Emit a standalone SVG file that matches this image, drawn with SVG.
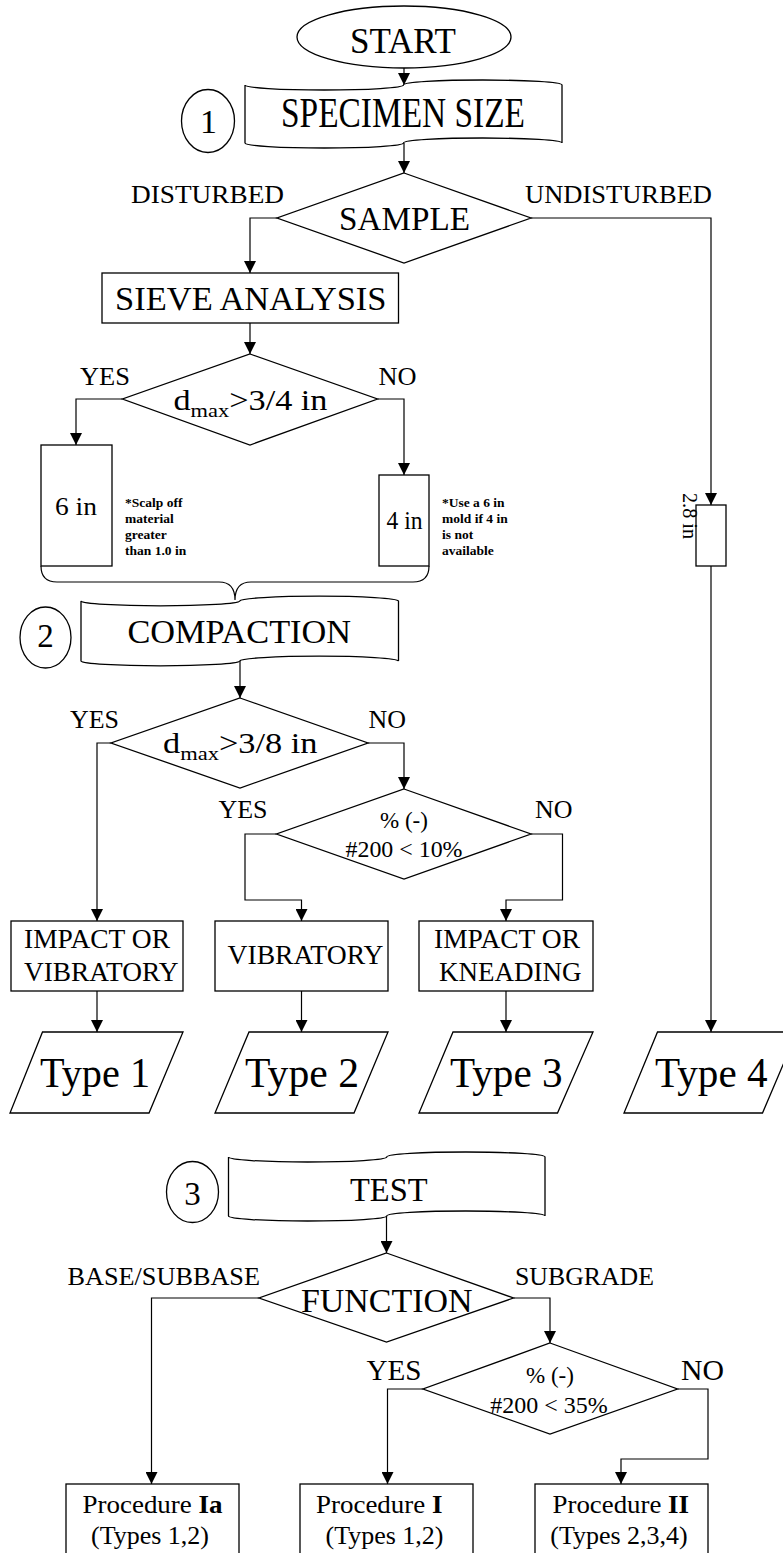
<svg xmlns="http://www.w3.org/2000/svg" width="783" height="1553" viewBox="0 0 783 1553">
<style>
.s{fill:#fff;stroke:#000;stroke-width:1.3}
.c{fill:none;stroke:#000;stroke-width:1.2;marker-end:url(#ah)}
.b{fill:none;stroke:#000;stroke-width:1.2}
text{font-family:"Liberation Serif","Times New Roman",serif;fill:#000}
.note{font-size:13.5px;font-weight:bold}
.lab{font-size:25px}
</style>
<defs>
<marker id="ah" markerUnits="userSpaceOnUse" markerWidth="12" markerHeight="12" viewBox="0 0 12 12" refX="12" refY="6" orient="auto">
<path d="M0,0 L12,6 L0,12 Z" fill="#000"/>
</marker>
</defs>
<rect x="0" y="0" width="783" height="1553" fill="#fff"/>

<g id="connectors">
<path class="c" d="M404,68 V85"/>
<path class="c" d="M404,143 V173"/>
<path class="c" d="M277,218 H250 V273"/>
<path class="c" d="M531,218 H711 V505"/>
<path class="c" d="M250,323 V354"/>
<path class="c" d="M122.5,399 H76 V445"/>
<path class="c" d="M377.5,399 H404 V475"/>
<path class="b" d="M41,566 Q41,582 57,582 L219,582 Q235,582 235,600 Q235,582 251,582 L413,582 Q429,582 429,566"/>
<path class="c" d="M240,661 V698"/>
<path class="c" d="M111,743 H97 V921"/>
<path class="c" d="M368,743 H404 V789"/>
<path class="c" d="M276.5,834 H245 V900 H301.5 V921"/>
<path class="c" d="M531,834 H562.5 V900 H506 V921"/>
<path class="c" d="M97,991 V1032"/>
<path class="c" d="M301.5,991 V1032"/>
<path class="c" d="M506,991 V1032"/>
<path class="c" d="M711,566 V1032"/>
<path class="c" d="M386.5,1216 V1253"/>
<path class="c" d="M259,1298 H151.5 V1484"/>
<path class="c" d="M513.5,1298 H550 V1343"/>
<path class="c" d="M423,1389 H387.5 V1484"/>
<path class="c" d="M677.5,1389 H708 V1459 H621 V1484"/>
</g>

<g id="start">
<ellipse class="s" cx="404" cy="37" rx="107" ry="31"/>
<text x="350" y="53" font-size="35" textLength="106" lengthAdjust="spacingAndGlyphs">START</text>
</g>

<g id="step1">
<ellipse class="s" cx="208" cy="121" rx="26.5" ry="31.5"/>
<text x="208.5" y="133" font-size="34" text-anchor="middle">1</text>
</g>

<g id="specimen-size">
<path class="s" d="M245,85 A79.25,5 0 0 0 403.5,85 A79.25,5 0 0 1 562,85 L562,143 A79.25,5 0 0 0 403.5,143 A79.25,5 0 0 1 245,143 Z"/>
<text x="281" y="127" font-size="42" textLength="244" lengthAdjust="spacingAndGlyphs">SPECIMEN SIZE</text>
</g>

<g id="sample">
<polygon class="s" points="404,173 531,218 404,263 277,218"/>
<text x="339" y="230" font-size="34" textLength="131" lengthAdjust="spacingAndGlyphs">SAMPLE</text>
<text x="131" y="203" class="lab" textLength="153" lengthAdjust="spacingAndGlyphs">DISTURBED</text>
<text x="525" y="203" class="lab" textLength="187" lengthAdjust="spacingAndGlyphs">UNDISTURBED</text>
</g>

<g id="sieve">
<rect class="s" x="102" y="273" width="296.5" height="50"/>
<text x="115" y="310" font-size="33" textLength="271.5" lengthAdjust="spacingAndGlyphs">SIEVE ANALYSIS</text>
</g>

<g id="dmax-34">
<polygon class="s" points="250,354 377.5,399 250,445 122.5,399"/>
<text x="173.5" y="410" font-size="29" textLength="154" lengthAdjust="spacingAndGlyphs">d<tspan font-size="19" dy="7">max</tspan><tspan dy="-7">&gt;3/4 in</tspan></text>
<text x="80" y="385" class="lab" textLength="50" lengthAdjust="spacingAndGlyphs">YES</text>
<text x="378.5" y="385" class="lab" textLength="38" lengthAdjust="spacingAndGlyphs">NO</text>
</g>

<g id="mold-6in">
<rect class="s" x="41" y="445" width="71" height="121"/>
<text x="55" y="515" font-size="26" textLength="42" lengthAdjust="spacingAndGlyphs">6 in</text>
<text class="note" x="125" y="507">*Scalp off</text>
<text class="note" x="125" y="523">material</text>
<text class="note" x="125" y="539">greater</text>
<text class="note" x="125" y="555">than 1.0 in</text>
</g>

<g id="mold-4in">
<rect class="s" x="379" y="475" width="50" height="91"/>
<text x="386.5" y="529" font-size="26" textLength="36" lengthAdjust="spacingAndGlyphs">4 in</text>
<text class="note" x="442" y="507">*Use a 6 in</text>
<text class="note" x="442" y="523">mold if 4 in</text>
<text class="note" x="442" y="539">is not</text>
<text class="note" x="442" y="555">available</text>
</g>

<g id="mold-28in">
<rect class="s" x="696" y="505" width="30" height="61"/>
<text transform="translate(683,493) rotate(90)" font-size="20" textLength="46" lengthAdjust="spacingAndGlyphs">2.8 in</text>
</g>

<g id="step2">
<ellipse class="s" cx="45.5" cy="637.5" rx="25.5" ry="30.5"/>
<text x="45.5" y="647" font-size="33" text-anchor="middle">2</text>
</g>

<g id="compaction">
<path class="s" d="M81,601 A79.4,5 0 0 0 239.75,601 A79.4,5 0 0 1 398.5,601 L398.5,661 A79.4,5 0 0 0 239.75,661 A79.4,5 0 0 1 81,661 Z"/>
<text x="127.5" y="643" font-size="33" textLength="223.5" lengthAdjust="spacingAndGlyphs">COMPACTION</text>
</g>

<g id="dmax-38">
<polygon class="s" points="240,698 368,743 240,788 111,743"/>
<text x="163" y="753" font-size="29" textLength="154.5" lengthAdjust="spacingAndGlyphs">d<tspan font-size="19" dy="7">max</tspan><tspan dy="-7">&gt;3/8 in</tspan></text>
<text x="70" y="728" class="lab" textLength="49" lengthAdjust="spacingAndGlyphs">YES</text>
<text x="368.5" y="728" class="lab" textLength="37.5" lengthAdjust="spacingAndGlyphs">NO</text>
</g>

<g id="fines-10">
<polygon class="s" points="404,789 531,834 404,879 276.5,834"/>
<text x="404" y="828" font-size="23" text-anchor="middle">% (-)</text>
<text x="404" y="857" font-size="23" text-anchor="middle" textLength="117" lengthAdjust="spacingAndGlyphs">#200 &lt; 10%</text>
<text x="218.5" y="818" class="lab" textLength="49" lengthAdjust="spacingAndGlyphs">YES</text>
<text x="535" y="818" class="lab" textLength="37.5" lengthAdjust="spacingAndGlyphs">NO</text>
</g>

<g id="impact-vibratory">
<rect class="s" x="11" y="921" width="172" height="70"/>
<text x="24" y="948" font-size="27" textLength="146" lengthAdjust="spacingAndGlyphs">IMPACT OR</text>
<text x="24" y="981" font-size="27" textLength="154.5" lengthAdjust="spacingAndGlyphs">VIBRATORY</text>
</g>

<g id="vibratory">
<rect class="s" x="215" y="921" width="173" height="70"/>
<text x="227.5" y="964" font-size="27" textLength="156" lengthAdjust="spacingAndGlyphs">VIBRATORY</text>
</g>

<g id="impact-kneading">
<rect class="s" x="419" y="921" width="174" height="70"/>
<text x="434" y="948" font-size="27" textLength="146" lengthAdjust="spacingAndGlyphs">IMPACT OR</text>
<text x="439" y="981" font-size="27" textLength="142.5" lengthAdjust="spacingAndGlyphs">KNEADING</text>
</g>

<g id="type1">
<polygon class="s" points="42.5,1032 183,1032 149,1113 10,1113"/>
<text x="40" y="1086.5" font-size="42" textLength="110" lengthAdjust="spacingAndGlyphs">Type 1</text>
</g>
<g id="type2">
<polygon class="s" points="249,1032 388,1032 354,1113 215,1113"/>
<text x="245" y="1086.5" font-size="42" textLength="114" lengthAdjust="spacingAndGlyphs">Type 2</text>
</g>
<g id="type3">
<polygon class="s" points="453,1032 593,1032 557.5,1113 419,1113"/>
<text x="450" y="1086.5" font-size="42" textLength="112.5" lengthAdjust="spacingAndGlyphs">Type 3</text>
</g>
<g id="type4">
<polygon class="s" points="657.5,1032 797,1032 762.5,1113 624,1113"/>
<text x="655" y="1086.5" font-size="42" textLength="112.5" lengthAdjust="spacingAndGlyphs">Type 4</text>
</g>

<g id="step3">
<ellipse class="s" cx="192.5" cy="1192" rx="26" ry="30.5"/>
<text x="192.5" y="1205" font-size="33" text-anchor="middle">3</text>
</g>

<g id="test">
<path class="s" d="M228.5,1157 A79.1,5 0 0 0 386.75,1157 A79.1,5 0 0 1 545,1157 L545,1216 A79.1,5 0 0 0 386.75,1216 A79.1,5 0 0 1 228.5,1216 Z"/>
<text x="350" y="1201" font-size="33" textLength="77.5" lengthAdjust="spacingAndGlyphs">TEST</text>
</g>

<g id="function">
<polygon class="s" points="386.5,1253 513.5,1298 386.5,1342 259,1298"/>
<text x="301" y="1312" font-size="33" textLength="171.5" lengthAdjust="spacingAndGlyphs">FUNCTION</text>
<text x="67.5" y="1285" class="lab" textLength="192.5" lengthAdjust="spacingAndGlyphs">BASE/SUBBASE</text>
<text x="515" y="1285" class="lab" textLength="139" lengthAdjust="spacingAndGlyphs">SUBGRADE</text>
</g>

<g id="fines-35">
<polygon class="s" points="550,1343 677.5,1389 550,1434 423,1389"/>
<text x="550" y="1383" font-size="23" text-anchor="middle">% (-)</text>
<text x="549" y="1413" font-size="23" text-anchor="middle" textLength="117.5" lengthAdjust="spacingAndGlyphs">#200 &lt; 35%</text>
<text x="366.5" y="1380" font-size="29" textLength="55" lengthAdjust="spacingAndGlyphs">YES</text>
<text x="681" y="1380" font-size="29" textLength="43" lengthAdjust="spacingAndGlyphs">NO</text>
</g>

<g id="procedure-ia">
<rect class="s" x="66" y="1484" width="173" height="80"/>
<text x="82.5" y="1513" font-size="26" textLength="140" lengthAdjust="spacingAndGlyphs">Procedure <tspan font-weight="bold">Ia</tspan></text>
<text x="150" y="1544" font-size="26" text-anchor="middle">(Types 1,2)</text>
</g>

<g id="procedure-i">
<rect class="s" x="300" y="1484" width="173" height="80"/>
<text x="316" y="1513" font-size="26" textLength="126.5" lengthAdjust="spacingAndGlyphs">Procedure <tspan font-weight="bold">I</tspan></text>
<text x="384.5" y="1544" font-size="26" text-anchor="middle">(Types 1,2)</text>
</g>

<g id="procedure-ii">
<rect class="s" x="535" y="1484" width="173" height="80"/>
<text x="552.5" y="1513" font-size="26" textLength="136.5" lengthAdjust="spacingAndGlyphs">Procedure <tspan font-weight="bold">II</tspan></text>
<text x="619" y="1544" font-size="26" text-anchor="middle">(Types 2,3,4)</text>
</g>
</svg>
